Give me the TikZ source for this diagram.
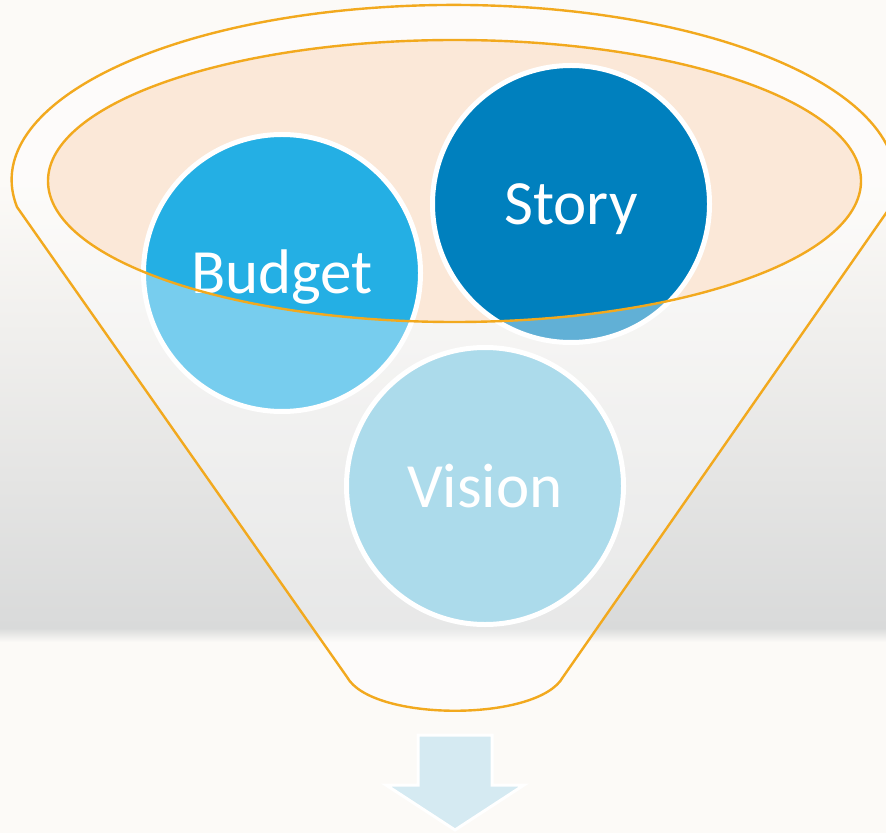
\documentclass[tikz,border=0pt]{standalone}
\usepackage{fontspec}
\setmainfont{Carlito}
\definecolor{cream}{HTML}{FCFAF7}
\definecolor{bggray}{HTML}{D9DADA}
\definecolor{peach}{HTML}{FBE8D8}
\definecolor{rimorange}{HTML}{F2A91E}
\definecolor{budgetblue}{HTML}{24AFE4}
\definecolor{storyblue}{HTML}{0080BE}
\definecolor{visionblue}{HTML}{7AC5E0}
\definecolor{arrowblue}{HTML}{D5EAF2}
\begin{document}
\begin{tikzpicture}[x=0.5pt,y=-0.5pt]
    \tikzset{
        bubble/.style={draw=white,circle,line width=2.5pt,minimum size=138.5pt,inner sep=0pt,text=white,text height=25pt,text depth=4pt,font=\fontsize{31.5}{36}\selectfont},
        rim/.style={draw=rimorange,line width=1.2pt},
        funnel/.style={insert path={(17,207) arc[start angle=171.1,end angle=368.9,x radius=442,y radius=175] -- (563,677) .. controls (538,722) and (372,722) .. (347,677) -- cycle}},
        mouth/.style={insert path={(454.5,181) ellipse[x radius=406.5,y radius=141]}}
    }
    \useasboundingbox (0,0) rectangle (886,833);
    % background
    \fill[cream] (0,0) rectangle (886,833);
    \shade[top color=cream,bottom color=bggray] (0,180) rectangle (886,628);
    \shade[top color=bggray,bottom color=cream] (0,628) rectangle (886,642);
    \fill[peach] [mouth];
    \node[bubble,fill=budgetblue] (budget) at (282,273) {Budget};
    \node[bubble,fill=storyblue] (story) at (571,204) {Story};
    \node[bubble,fill=visionblue] (vision) at (485,486) {Vision};
    % front of the funnel, over the bubbles
    \fill[white,opacity=0.38,even odd rule] [funnel] [mouth];
    \draw[rim] [funnel];
    \draw[rim] [mouth];
    \filldraw[fill=arrowblue,draw=white,line width=1.5pt] (418,735) -- (492,735) -- (492,785) -- (524,785) -- (455,830) -- (386,785) -- (418,785) -- cycle;
\end{tikzpicture}
\end{document}
